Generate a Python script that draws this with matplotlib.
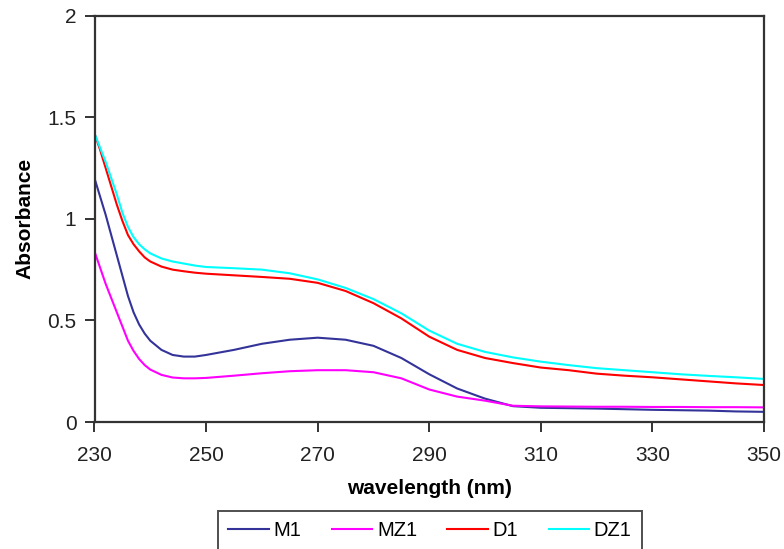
import matplotlib
matplotlib.use("Agg")
import matplotlib.pyplot as plt
import matplotlib.ticker as ticker

plt.rcParams["font.family"] = ["Liberation Sans", "DejaVu Sans"]

# wavelength grid (nm)
wavelength = [230, 231, 232, 233, 234, 235, 236, 237, 238, 239, 240, 242, 244, 246, 248, 250,
              255, 260, 265, 270, 275, 280, 285, 290, 295, 300, 305, 310, 315, 320, 325,
              330, 335, 340, 345, 350]

# absorbance values
m1 = [1.20, 1.11, 1.02, 0.92, 0.82, 0.72, 0.62, 0.54, 0.48, 0.435, 0.40, 0.355, 0.33, 0.322, 0.322, 0.33,
      0.355, 0.385, 0.405, 0.415, 0.405, 0.375, 0.315, 0.235, 0.165, 0.115, 0.078, 0.07, 0.068, 0.066, 0.063,
      0.06, 0.058, 0.056, 0.052, 0.05]
mz1 = [0.84, 0.76, 0.68, 0.61, 0.54, 0.47, 0.40, 0.35, 0.31, 0.28, 0.258, 0.232, 0.219, 0.215, 0.215, 0.217,
       0.228, 0.24, 0.25, 0.255, 0.255, 0.245, 0.215, 0.16, 0.125, 0.105, 0.08, 0.077, 0.076, 0.075, 0.075,
       0.074, 0.074, 0.073, 0.073, 0.072]
d1 = [1.42, 1.34, 1.25, 1.16, 1.07, 0.99, 0.92, 0.875, 0.84, 0.81, 0.79, 0.765, 0.75, 0.742, 0.735, 0.73,
      0.722, 0.714, 0.705, 0.685, 0.645, 0.585, 0.51, 0.42, 0.355, 0.315, 0.29, 0.268, 0.255, 0.238, 0.228,
      0.22, 0.21, 0.2, 0.19, 0.182]
dz1 = [1.42, 1.35, 1.28, 1.20, 1.12, 1.03, 0.96, 0.91, 0.875, 0.85, 0.83, 0.805, 0.79, 0.78, 0.77, 0.763,
       0.757, 0.75, 0.732, 0.702, 0.66, 0.605, 0.535, 0.45, 0.385, 0.345, 0.318, 0.297, 0.28, 0.265, 0.255,
       0.245, 0.235, 0.227, 0.22, 0.212]

series = [("M1", m1, "#333399"), ("MZ1", mz1, "#ff00ff"),
          ("D1", d1, "#ff0000"), ("DZ1", dz1, "#00ffff")]

fig = plt.figure(figsize=(7.84, 5.49), dpi=100)
ax = fig.add_axes([94.5 / 784, 1 - 422 / 549, (764 - 94.5) / 784, (422 - 15.7) / 549])

for name, vals, col in series:
    ax.plot(wavelength, vals, color=col, linewidth=1.5, label=name)

ax.set_xlim(230, 350)
ax.set_ylim(0, 2)
ax.set_xticks(range(230, 351, 20))
ax.set_yticks([0, 0.5, 1, 1.5, 2])
ax.yaxis.set_major_formatter(ticker.FuncFormatter(lambda v, p: "%g" % v))

for s in ax.spines.values():
    s.set_color("#333333")
    s.set_linewidth(1.6)
ax.tick_params(direction="out", length=7, width=1.4, color="#333333",
               labelsize=15, labelcolor="#222222", pad=6)
ax.tick_params(axis="x", pad=10)

ax.set_xlabel("wavelength (nm)", fontsize=15, fontweight="bold", labelpad=10)
ax.set_ylabel("Absorbance", fontsize=15, fontweight="bold", labelpad=9)

leg = fig.legend(loc="upper center", bbox_to_anchor=(430 / 784, 1 - 511 / 549),
                 ncol=4, fontsize=14.5, frameon=True, fancybox=False,
                 handlelength=2.0, handletextpad=0.25, columnspacing=1.5,
                 borderpad=0.5, borderaxespad=0)
leg.get_frame().set_edgecolor("#222222")
leg.get_frame().set_linewidth(1.4)

fig.savefig("out.png", dpi=100)
